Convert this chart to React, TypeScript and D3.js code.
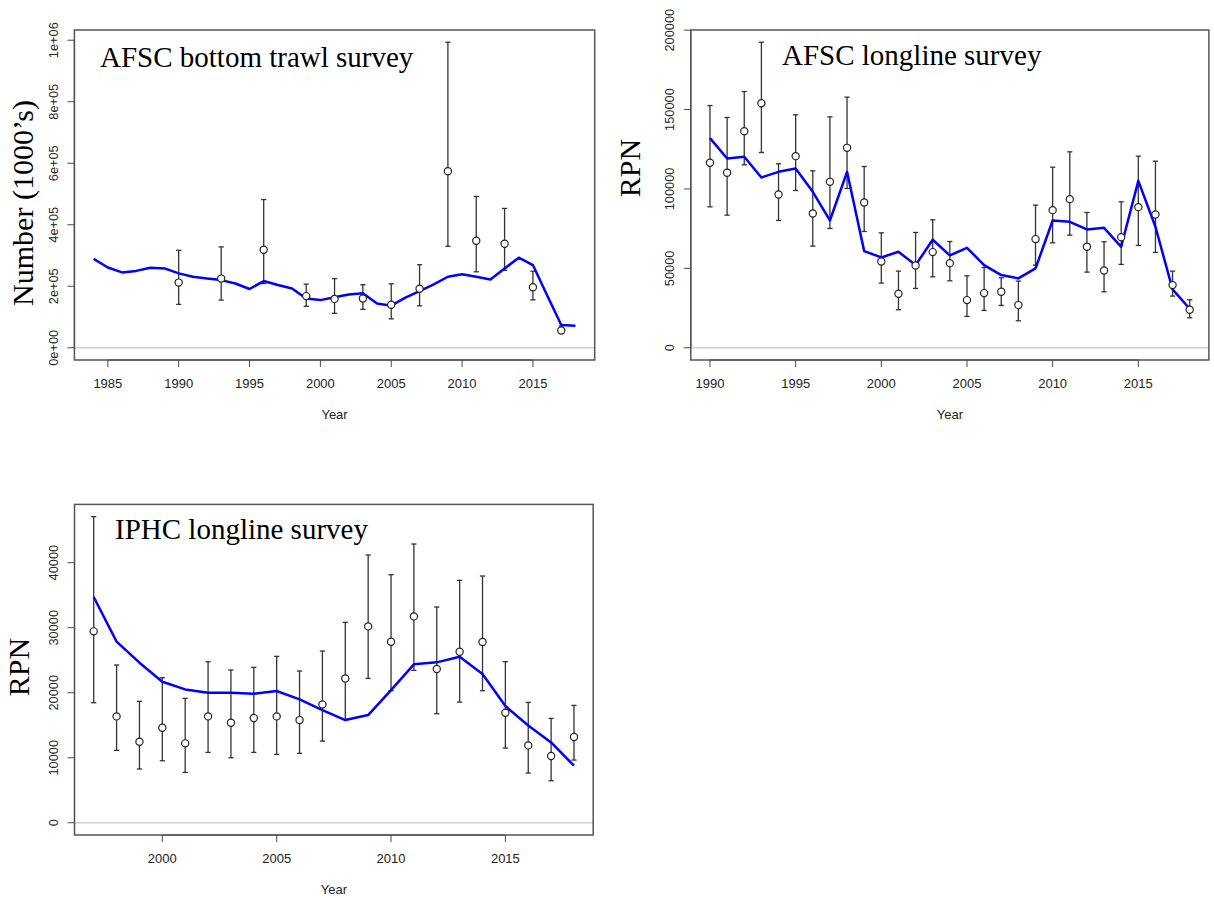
import React from "react";
import * as d3 from "d3";

// ---------- Data ----------
// Panel 1: AFSC bottom trawl survey (numbers, 1000's)
const btsYears = [1990, 1993, 1996, 1999, 2001, 2003, 2005, 2007, 2009, 2011, 2013, 2015, 2017];
const btsObs = [212000, 225000, 318500, 168000, 159000, 160000, 140000, 192000, 574000, 348000, 338000, 197000, 56000];
const btsLower = [141000, 155000, 209000, 135000, 112000, 125000, 94000, 136500, 330000, 247000, 252000, 156000, 47000];
const btsUpper = [317000, 328000, 482000, 207000, 225000, 205000, 208000, 270000, 993500, 492000, 453000, 249000, 71000];
const btsFitYears = d3.range(1984, 2019);
const btsFit = [289000, 261000, 245000, 250000, 260000, 258000, 242000, 231000, 225000, 220000, 209000, 191000, 217000, 204000, 193000, 160000, 155000, 164000, 173000, 177000, 144000, 137000, 163000, 184000, 206000, 231000, 239000, 231000, 222000, 258000, 293000, 269000, 171000, 74000, 71500];
const btsYTicks = [0, 200000, 400000, 600000, 800000, 1000000];
const btsYTickLabels = ["0e+00", "2e+05", "4e+05", "6e+05", "8e+05", "1e+06"];
const btsXTicks = [1985, 1990, 1995, 2000, 2005, 2010, 2015];

// Panel 2: AFSC longline survey (RPN)
const llYears = d3.range(1990, 2019);
const llObs = [116460, 110170, 136390, 154010, 96520, 120660, 84560, 104490, 125900, 91480, 54340, 33990, 51820, 60230, 53290, 30020, 34430, 35270, 26880, 68420, 86670, 93590, 63590, 48690, 69670, 88560, 83940, 39470, 23940];
const llUpper = [152540, 145000, 161350, 192400, 115830, 146670, 111420, 145400, 157800, 114140, 72380, 48260, 72600, 80580, 66930, 45330, 50590, 44080, 41990, 89820, 113720, 123380, 85200, 66720, 91910, 120660, 117510, 48260, 30240];
const llLower = [88760, 83520, 115200, 122960, 80160, 99040, 64010, 75150, 100300, 73240, 40720, 23940, 37360, 44690, 42170, 19740, 23520, 26670, 17010, 52060, 66090, 70920, 47630, 35270, 52480, 64430, 60030, 32540, 18910];
const llFitYears = d3.range(1990, 2019);
const llFit = [131990, 119190, 120240, 107230, 110800, 112900, 98210, 80160, 110800, 60860, 56880, 60450, 52060, 68000, 58140, 62970, 52060, 45770, 43670, 49960, 80160, 79320, 74500, 75550, 63590, 105130, 76180, 36740, 24570];
const llYTicks = [0, 50000, 100000, 150000, 200000];
const llYTickLabels = ["0", "50000", "100000", "150000", "200000"];
const llXTicks = [1990, 1995, 2000, 2005, 2010, 2015];

// Panel 3: IPHC longline survey (RPN)
const ipYears = d3.range(1997, 2019);
const ipObs = [29435, 16360, 12460, 14620, 12210, 16360, 15380, 16100, 16360, 15790, 18200, 22200, 30200, 27850, 31740, 23640, 26310, 27790, 16920, 11900, 10260, 13180];
const ipUpper = [47080, 24260, 18670, 22310, 19130, 24770, 23490, 23900, 25590, 23330, 26410, 30820, 41180, 38150, 42870, 33180, 37280, 37950, 24770, 18510, 16050, 18050];
const ipLower = [18460, 11130, 8260, 9540, 7740, 10820, 10000, 10820, 10510, 10670, 12560, 15900, 22200, 20310, 23430, 16770, 18560, 20310, 11490, 7640, 6460, 9640];
const ipFitYears = d3.range(1997, 2019);
const ipFit = [34720, 27850, 24620, 21690, 20510, 20000, 20000, 19850, 20260, 18970, 17330, 15790, 16560, 20410, 24360, 24670, 25540, 22870, 17950, 14970, 12360, 8770];
const ipYTicks = [0, 10000, 20000, 30000, 40000];
const ipYTickLabels = ["0", "10000", "20000", "30000", "40000"];
const ipXTicks = [2000, 2005, 2010, 2015];

// ---------- Styling ----------
const SERIF = "'Liberation Serif', 'Times New Roman', serif";
const SANS = "'Liberation Sans', Arial, sans-serif";
const BLUE = "#0000FF";

type PanelProps = {
  left: number; right: number; top: number; bottom: number;
  title: string; titleX: number; titleY: number;
  ylab: string; ylabX: number; ylabY: number;
  years: number[]; obs: number[]; lower: number[]; upper: number[];
  fitYears: number[]; fit: number[];
  yTicks: number[]; yTickLabels: string[]; xTicks: number[];
};

function Panel(p: PanelProps) {
  const allYears = p.fitYears.concat(p.years);
  const xmin = d3.min(allYears) as number;
  const xmax = d3.max(allYears) as number;
  const xr = xmax - xmin;
  const x = d3.scaleLinear().domain([xmin - 0.04 * xr, xmax + 0.04 * xr]).range([p.left, p.right]);
  const ymax = d3.max(p.upper) as number;
  const y = d3.scaleLinear().domain([-0.04 * ymax, ymax * 1.04]).range([p.bottom, p.top]);
  const line = d3.line<number>().x((_, i) => x(p.fitYears[i])).y((d) => y(d));
  const cap = 2.6;
  const axisCol = "#4a4a4a";
  const xt0 = x(p.xTicks[0]);
  const xt1 = x(p.xTicks[p.xTicks.length - 1]);
  const yt0 = y(p.yTicks[0]);
  const yt1 = y(p.yTicks[p.yTicks.length - 1]);
  return (
    <g>
      {/* zero line */}
      <line x1={p.left} x2={p.right} y1={y(0)} y2={y(0)} stroke="#d0d0d0" strokeWidth={1.6} />
      {/* error bars */}
      {p.years.map((yr, i) => (
        <g key={"e" + yr} stroke="#333" strokeWidth={1.3}>
          <line x1={x(yr)} x2={x(yr)} y1={y(p.lower[i])} y2={y(p.upper[i])} />
          <line x1={x(yr) - cap} x2={x(yr) + cap} y1={y(p.lower[i])} y2={y(p.lower[i])} />
          <line x1={x(yr) - cap} x2={x(yr) + cap} y1={y(p.upper[i])} y2={y(p.upper[i])} />
        </g>
      ))}
      {/* fitted line */}
      <path d={line(p.fit) || ""} fill="none" stroke={BLUE} strokeWidth={2.5} strokeLinejoin="round" />
      {/* points */}
      {p.years.map((yr, i) => (
        <circle key={"p" + yr} cx={x(yr)} cy={y(p.obs[i])} r={3.6} fill="#fff" stroke="#222" strokeWidth={1.2} />
      ))}
      {/* box */}
      <rect x={p.left} y={p.top} width={p.right - p.left} height={p.bottom - p.top} fill="none" stroke="#555" strokeWidth={1.5} />
      {/* x axis */}
      <line x1={xt0} x2={xt1} y1={p.bottom} y2={p.bottom} stroke={axisCol} strokeWidth={1} />
      {p.xTicks.map((t) => (
        <g key={"xt" + t}>
          <line x1={x(t)} x2={x(t)} y1={p.bottom} y2={p.bottom + 7} stroke={axisCol} strokeWidth={1} />
          <text x={x(t)} y={p.bottom + 28} textAnchor="middle" fontFamily={SANS} fontSize={13} fill="#222">{t}</text>
        </g>
      ))}
      <text x={(p.left + p.right) / 2} y={p.bottom + 59} textAnchor="middle" fontFamily={SANS} fontSize={13} fill="#222">Year</text>
      {/* y axis */}
      <line x1={p.left} x2={p.left} y1={yt0} y2={yt1} stroke={axisCol} strokeWidth={1} />
      {p.yTicks.map((t, i) => (
        <g key={"yt" + t}>
          <line x1={p.left - 7} x2={p.left} y1={y(t)} y2={y(t)} stroke={axisCol} strokeWidth={1} />
          <text transform={`translate(${p.left - 16.5},${y(t)}) rotate(-90)`} textAnchor="middle" fontFamily={SANS} fontSize={12.8} fill="#222">{p.yTickLabels[i]}</text>
        </g>
      ))}
      {/* y label */}
      <text transform={`translate(${p.ylabX},${p.ylabY}) rotate(-90)`} textAnchor="middle" fontFamily={SERIF} fontSize={30} fill="#000">{p.ylab}</text>
      {/* title */}
      <text x={p.titleX} y={p.titleY} fontFamily={SERIF} fontSize={29} fill="#000">{p.title}</text>
    </g>
  );
}

export default function App() {
  return (
    <svg width={1214} height={898} style={{ position: "absolute", left: 0, top: 0, background: "#fff" }}>
      <rect x={0} y={0} width={1214} height={898} fill="#fff" />
      <Panel left={74.4} right={594.7} top={30} bottom={360}
        title="AFSC bottom trawl survey" titleX={100} titleY={66.5}
        ylab="Number (1000’s)" ylabX={33} ylabY={203}
        years={btsYears} obs={btsObs} lower={btsLower} upper={btsUpper}
        fitYears={btsFitYears} fit={btsFit}
        yTicks={btsYTicks} yTickLabels={btsYTickLabels} xTicks={btsXTicks} />
      <Panel left={690.8} right={1208.9} top={30} bottom={360}
        title="AFSC longline survey" titleX={782} titleY={65}
        ylab="RPN" ylabX={640} ylabY={168}
        years={llYears} obs={llObs} lower={llLower} upper={llUpper}
        fitYears={llFitYears} fit={llFit}
        yTicks={llYTicks} yTickLabels={llYTickLabels} xTicks={llXTicks} />
      <Panel left={74.5} right={593.2} top={504.4} bottom={835}
        title="IPHC longline survey" titleX={115} titleY={539}
        ylab="RPN" ylabX={29} ylabY={667}
        years={ipYears} obs={ipObs} lower={ipLower} upper={ipUpper}
        fitYears={ipFitYears} fit={ipFit}
        yTicks={ipYTicks} yTickLabels={ipYTickLabels} xTicks={ipXTicks} />
    </svg>
  );
}
